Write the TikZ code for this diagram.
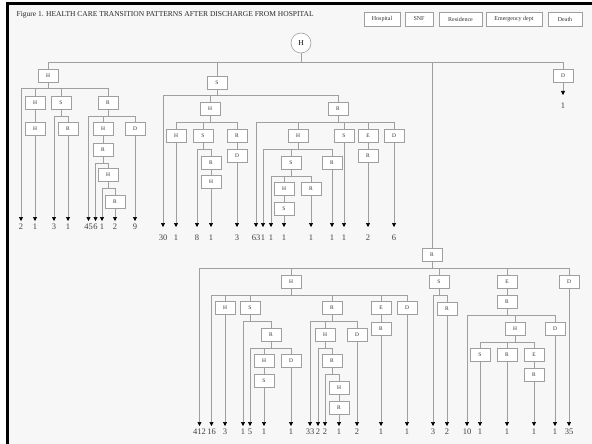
\documentclass[tikz,border=0pt]{standalone}
\usepackage{fontspec}
\setmainfont{Liberation Serif}
\usetikzlibrary{arrows.meta}

\begin{document}
\begin{tikzpicture}[x=1pt, y=-1pt, line width=0.6pt,
  box/.style={draw=gray!75, fill=white, minimum width=20pt, minimum height=13pt,
    inner sep=0pt, font=\fontsize{5.5}{6}\selectfont, text=gray!40!black},
  key/.style={box, minimum height=14pt, font=\fontsize{6}{6}\selectfont},
  cnt/.style={anchor=north, inner sep=0pt, outer ysep=3pt,
    font=\fontsize{8.5}{8.5}\selectfont, text=black!75},
  low/.style={cnt, outer ysep=7.5pt},
  link/.style={draw=gray!75},
  arr/.style={link, -{Triangle[width=4pt, length=4pt, color=black]}}]
  % page 592 x 444, y grows downwards
  \useasboundingbox (0,0) rectangle (592,444);
  \fill[white] (0,0) rectangle (592,444);
  \fill[gray!6] (9,5) rectangle (592,444);
  \draw[line width=3pt] (7.5,444) -- (7.5,3.5) -- (592,3.5);

  \node[anchor=west, font=\fontsize{7.5}{7.5}\selectfont, text=gray!30!black] (title) at (13,15)
    {Figure 1. HEALTH CARE TRANSITION PATTERNS AFTER DISCHARGE FROM HOSPITAL};
  % legend
  \node[key, minimum width=36pt] (kH) at (382,19) {Hospital};
  \node[key, minimum width=28pt] (kS) at (419,19) {SNF};
  \node[key, minimum width=43pt] (kR) at (460.5,19) {Residence};
  \node[key, minimum width=56pt] (kE) at (514,19) {Emergency dept};
  \node[key, minimum width=34pt] (kD) at (565,19) {Death};

  % root and first level
  \node[draw=gray!75, fill=white, circle, minimum size=20pt, inner sep=0pt,
    font=\fontsize{7.5}{7.5}\selectfont] (root) at (301,43) {H};
  \node[box] (A1) at (48,75.5) {H};
  \node[box] (B1) at (217,82.5) {S};
  \node[box] (C1) at (432,255) {R};
  \node[box] (D1) at (563,75.5) {D};
  \node[cnt, outer ysep=8pt] (nD) at (563,95) {1};
  \draw[link] (root.south) -- ++(0,9) -| (A1.north);
  \draw[link] (root.south) -- ++(0,9) -| (B1.north);
  \draw[link] (root.south) -- ++(0,9) -| (C1.north);
  \draw[link] (root.south) -- ++(0,9) -| (D1.north);
  \draw[arr] (D1.south) -- (nD.north);

  % H branch
  \node[box] (A2) at (35,102.5) {H};
  \node[box] (A3) at (35,129) {H};
  \node[box] (A4) at (61,102.5) {S};
  \node[box] (A5) at (68,129) {R};
  \node[box] (A6) at (108,102.5) {R};
  \node[box] (A7) at (103,129) {H};
  \node[box] (A8) at (135,129) {D};
  \node[box] (A9) at (103,149.5) {R};
  \node[box] (A10) at (108,175) {H};
  \node[box] (A11) at (115,201.5) {R};
  \node[cnt] (na1) at (21,221) {2};
  \node[cnt] (na2) at (35,221) {1};
  \node[cnt] (na3) at (54,221) {3};
  \node[cnt] (na4) at (68,221) {1};
  \node[cnt] (na5) at (88.5,221) {45};
  \node[cnt] (na6) at (95.5,221) {6};
  \node[cnt] (na7) at (102,221) {1};
  \node[cnt] (na8) at (115,221) {2};
  \node[cnt] (na9) at (135,221) {9};
  \draw[arr] (A1.south) -- ++(0,6.5) -| (na1.north);
  \draw[link] (A1.south) -- ++(0,6.5) -| (A2.north);
  \draw[link] (A1.south) -- ++(0,6.5) -| (A4.north);
  \draw[link] (A1.south) -- ++(0,6.5) -| (A6.north);
  \draw[link] (A2) -- (A3);
  \draw[arr] (A3.south) -- (na2.north);
  \draw[arr] (A4.south) -- ++(0,6.5) -| (na3.north);
  \draw[link] (A4.south) -- ++(0,6.5) -| (A5.north);
  \draw[arr] (A5.south) -- (na4.north);
  \draw[arr] (A6.south) -- ++(0,6.5) -| (na5.north);
  \draw[link] (A6.south) -- ++(0,6.5) -| (A7.north);
  \draw[link] (A6.south) -- ++(0,6.5) -| (A8.north);
  \draw[arr] (A8.south) -- (na9.north);
  \draw[link] (A7) -- (A9);
  \draw[arr] (A9.south) -- ++(0,6.5) -| (na6.north);
  \draw[link] (A9.south) -- ++(0,6.5) -| (A10.north);
  \draw[arr] (A10.south) -- ++(0,6.5) -| (na7.north);
  \draw[link] (A10.south) -- ++(0,6.5) -| (A11.north);
  \draw[arr] (A11.south) -- (na8.north);

  % S branch
  \node[box] (B2) at (210,109) {H};
  \node[box] (B3) at (338,109) {R};
  \node[box] (B4) at (176,135.5) {H};
  \node[box] (B5) at (203,135.5) {S};
  \node[box] (B6) at (211,162.5) {R};
  \node[box] (B7) at (211,182) {H};
  \node[box] (B8) at (237,135.5) {R};
  \node[box] (B9) at (237,155.5) {D};
  \node[box] (B10) at (298,135.5) {H};
  \node[box] (B11) at (344,135.5) {S};
  \node[box] (B12) at (368,135.5) {E};
  \node[box] (B13) at (368,155.5) {R};
  \node[box] (B14) at (394,135.5) {D};
  \node[box] (B15) at (291,162.5) {S};
  \node[box] (B16) at (332,162.5) {R};
  \node[box] (B17) at (284,188.5) {H};
  \node[box] (B18) at (284,208.5) {S};
  \node[box] (B19) at (311,188.5) {R};
  \node[low] (nb1) at (163,227) {30};
  \node[low] (nb2) at (176,227) {1};
  \node[low] (nb3) at (197,227) {8};
  \node[low] (nb4) at (211,227) {1};
  \node[low] (nb5) at (237,227) {3};
  \node[low] (nb6) at (256,227) {63};
  \node[low] (nb7) at (263,227) {1};
  \node[low] (nb8) at (271,227) {1};
  \node[low] (nb9) at (284,227) {1};
  \node[low] (nb10) at (311,227) {1};
  \node[low] (nb11) at (332,227) {1};
  \node[low] (nb12) at (344,227) {1};
  \node[low] (nb13) at (368,227) {2};
  \node[low] (nb14) at (394,227) {6};
  \draw[arr] (B1.south) -- ++(0,6.5) -| (nb1.north);
  \draw[link] (B1.south) -- ++(0,6.5) -| (B2.north);
  \draw[link] (B1.south) -- ++(0,6.5) -| (B3.north);
  \draw[link] (B2.south) -- ++(0,6.5) -| (B4.north);
  \draw[link] (B2.south) -- ++(0,6.5) -| (B5.north);
  \draw[link] (B2.south) -- ++(0,6.5) -| (B8.north);
  \draw[arr] (B4.south) -- (nb2.north);
  \draw[arr] (B5.south) -- ++(0,6.5) -| (nb3.north);
  \draw[link] (B5.south) -- ++(0,6.5) -| (B6.north);
  \draw[link] (B6) -- (B7);
  \draw[arr] (B7.south) -- (nb4.north);
  \draw[link] (B8) -- (B9);
  \draw[arr] (B9.south) -- (nb5.north);
  \draw[arr] (B3.south) -- ++(0,6.5) -| (nb6.north);
  \draw[link] (B3.south) -- ++(0,6.5) -| (B10.north);
  \draw[link] (B3.south) -- ++(0,6.5) -| (B11.north);
  \draw[link] (B3.south) -- ++(0,6.5) -| (B12.north);
  \draw[link] (B3.south) -- ++(0,6.5) -| (B14.north);
  \draw[arr] (B10.south) -- ++(0,6.5) -| (nb7.north);
  \draw[link] (B10.south) -- ++(0,6.5) -| (B15.north);
  \draw[link] (B10.south) -- ++(0,6.5) -| (B16.north);
  \draw[arr] (B15.south) -- ++(0,6.5) -| (nb8.north);
  \draw[link] (B15.south) -- ++(0,6.5) -| (B17.north);
  \draw[link] (B15.south) -- ++(0,6.5) -| (B19.north);
  \draw[link] (B17) -- (B18);
  \draw[arr] (B18.south) -- (nb9.north);
  \draw[arr] (B19.south) -- (nb10.north);
  \draw[arr] (B16.south) -- (nb11.north);
  \draw[arr] (B11.south) -- (nb12.north);
  \draw[link] (B12) -- (B13);
  \draw[arr] (B13.south) -- (nb13.north);
  \draw[arr] (B14.south) -- (nb14.north);

  % R branch (lower half)
  \node[box] (C2) at (291,281.5) {H};
  \node[box] (C3) at (439,281.5) {S};
  \node[box] (C4) at (507,281.5) {E};
  \node[box] (C5) at (569,281.5) {D};
  \node[box] (C6) at (225,308) {H};
  \node[box] (C7) at (250,308) {S};
  \node[box] (C8) at (332,308) {R};
  \node[box] (C9) at (381,308) {E};
  \node[box] (C10) at (381,328.5) {R};
  \node[box] (C11) at (407,308) {D};
  \node[box] (C12) at (271,335) {R};
  \node[box] (C13) at (264,361) {H};
  \node[box] (C14) at (264,381) {S};
  \node[box] (C15) at (291,361) {D};
  \node[box] (C16) at (325,335) {H};
  \node[box] (C17) at (357,335) {D};
  \node[box] (C18) at (332,361) {R};
  \node[box] (C19) at (339,388) {H};
  \node[box] (C20) at (339,408) {R};
  \node[box] (C21) at (447,308.5) {R};
  \node[box] (C22) at (507,301.5) {R};
  \node[box] (C23) at (515,328.5) {H};
  \node[box] (C24) at (555,328.5) {D};
  \node[box] (C25) at (480,355) {S};
  \node[box] (C26) at (507,355) {R};
  \node[box] (C27) at (534,355) {E};
  \node[box] (C28) at (534,375) {R};
  \node[cnt] (nc1) at (199.5,426) {412};
  \node[cnt] (nc2) at (211.5,426) {16};
  \node[cnt] (nc3) at (225,426) {3};
  \node[cnt] (nc4) at (243,426) {1};
  \node[cnt] (nc5) at (250,426) {5};
  \node[cnt] (nc6) at (264,426) {1};
  \node[cnt] (nc7) at (291,426) {1};
  \node[cnt] (nc8) at (310,426) {33};
  \node[cnt] (nc9) at (318,426) {2};
  \node[cnt] (nc10) at (325,426) {2};
  \node[cnt] (nc11) at (339,426) {1};
  \node[cnt] (nc12) at (357,426) {2};
  \node[cnt] (nc13) at (381,426) {1};
  \node[cnt] (nc14) at (407,426) {1};
  \node[cnt] (nc15) at (433,426) {3};
  \node[cnt] (nc16) at (447,426) {2};
  \node[cnt] (nc17) at (467,426) {10};
  \node[cnt] (nc18) at (480,426) {1};
  \node[cnt] (nc19) at (507,426) {1};
  \node[cnt] (nc20) at (534,426) {1};
  \node[cnt] (nc21) at (555,426) {1};
  \node[cnt] (nc22) at (569,426) {35};
  \draw[arr] (C1.south) -- ++(0,6.5) -| (nc1.north);
  \draw[link] (C1.south) -- ++(0,6.5) -| (C2.north);
  \draw[link] (C1.south) -- ++(0,6.5) -| (C3.north);
  \draw[link] (C1.south) -- ++(0,6.5) -| (C4.north);
  \draw[link] (C1.south) -- ++(0,6.5) -| (C5.north);
  \draw[arr] (C5.south) -- (nc22.north);
  \draw[arr] (C2.south) -- ++(0,6.5) -| (nc2.north);
  \draw[link] (C2.south) -- ++(0,6.5) -| (C6.north);
  \draw[link] (C2.south) -- ++(0,6.5) -| (C7.north);
  \draw[link] (C2.south) -- ++(0,6.5) -| (C8.north);
  \draw[link] (C2.south) -- ++(0,6.5) -| (C9.north);
  \draw[link] (C2.south) -- ++(0,6.5) -| (C11.north);
  \draw[arr] (C6.south) -- (nc3.north);
  \draw[arr] (C7.south) -- ++(0,6.5) -| (nc4.north);
  \draw[link] (C7.south) -- ++(0,6.5) -| (C12.north);
  \draw[arr] (C12.south) -- ++(0,6.5) -| (nc5.north);
  \draw[link] (C12.south) -- ++(0,6.5) -| (C13.north);
  \draw[link] (C12.south) -- ++(0,6.5) -| (C15.north);
  \draw[link] (C13) -- (C14);
  \draw[arr] (C14.south) -- (nc6.north);
  \draw[arr] (C15.south) -- (nc7.north);
  \draw[arr] (C8.south) -- ++(0,6.5) -| (nc8.north);
  \draw[link] (C8.south) -- ++(0,6.5) -| (C16.north);
  \draw[link] (C8.south) -- ++(0,6.5) -| (C17.north);
  \draw[arr] (C16.south) -- ++(0,6.5) -| (nc9.north);
  \draw[link] (C16.south) -- ++(0,6.5) -| (C18.north);
  \draw[arr] (C18.south) -- ++(0,6.5) -| (nc10.north);
  \draw[link] (C18.south) -- ++(0,6.5) -| (C19.north);
  \draw[link] (C19) -- (C20);
  \draw[arr] (C20.south) -- (nc11.north);
  \draw[arr] (C17.south) -- (nc12.north);
  \draw[link] (C9) -- (C10);
  \draw[arr] (C10.south) -- (nc13.north);
  \draw[arr] (C11.south) -- (nc14.north);
  \draw[arr] (C3.south) -- ++(0,6.5) -| (nc15.north);
  \draw[link] (C3.south) -- ++(0,6.5) -| (C21.north);
  \draw[arr] (C21.south) -- (nc16.north);
  \draw[link] (C4) -- (C22);
  \draw[arr] (C22.south) -- ++(0,6.5) -| (nc17.north);
  \draw[link] (C22.south) -- ++(0,6.5) -| (C23.north);
  \draw[link] (C22.south) -- ++(0,6.5) -| (C24.north);
  \draw[arr] (C24.south) -- (nc21.north);
  \draw[link] (C23.south) -- ++(0,6.5) -| (C25.north);
  \draw[link] (C23.south) -- ++(0,6.5) -| (C26.north);
  \draw[link] (C23.south) -- ++(0,6.5) -| (C27.north);
  \draw[arr] (C25.south) -- (nc18.north);
  \draw[arr] (C26.south) -- (nc19.north);
  \draw[link] (C27) -- (C28);
  \draw[arr] (C28.south) -- (nc20.north);
\end{tikzpicture}
\end{document}
